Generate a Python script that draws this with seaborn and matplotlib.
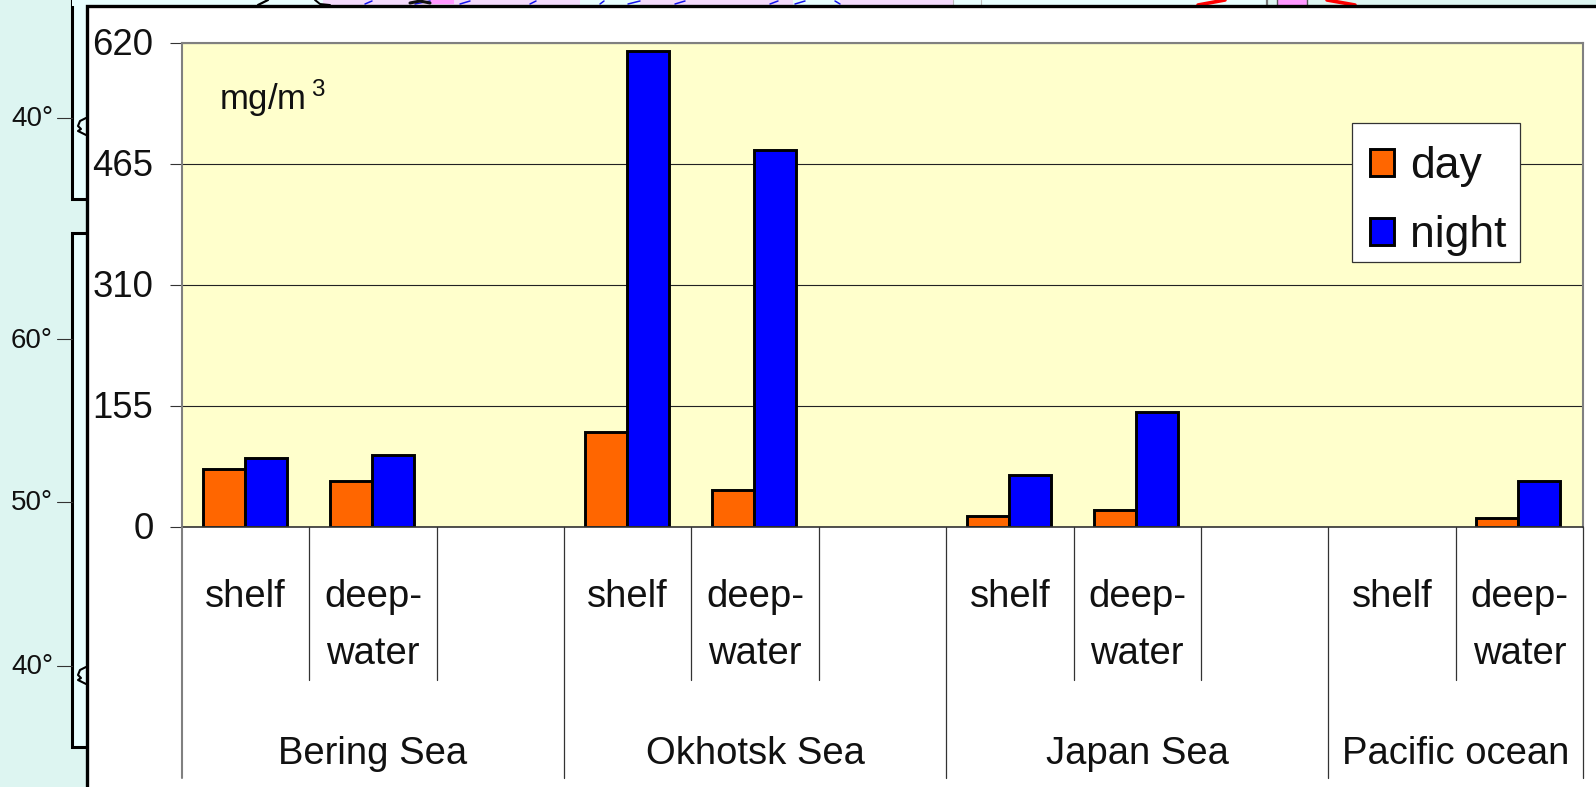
import numpy as np
import pandas as pd
import seaborn as sns
import matplotlib
matplotlib.use("Agg")
import matplotlib.pyplot as plt
from matplotlib.patches import Rectangle
from matplotlib.transforms import ScaledTranslation

# Chart values (mg/m3); NaN marks a region/zone pair without a sample
slots = ["a", "b", "c", "d", "e", "f", "g", "h", "i", "j", "k"]
day_values = [74, 59, np.nan, 122, 47, np.nan, 14, 22, np.nan, np.nan, 11]
night_values = [88, 92, np.nan, 610, 483, np.nan, 66, 147, np.nan, np.nan, 59]
y_ticks = [0, 155, 310, 465, 620]
zone_slots = [0, 1, 3, 4, 6, 7, 9, 10]
zone_labels = ["shelf", "deep-\nwater"] * 4
seas = ["Bering Sea", "Okhotsk Sea", "Japan Sea", "Pacific ocean"]
sea_spans = [(0, 3), (3, 6), (6, 9), (9, 11)]
latitude_labels = ["40°", "60°", "50°", "40°"]
latitude_rows = [118, 339, 502, 666]

W, H = 1596, 787
FONT = "Liberation Sans"
sns.set_theme(style="white")
plt.rcParams["font.family"] = [FONT, "DejaVu Sans"]
plt.rcParams["mathtext.fontset"] = "custom"
plt.rcParams["mathtext.rm"] = FONT
plt.rcParams["mathtext.default"] = "regular"

fig = plt.figure(figsize=(W / 100, H / 100), dpi=100, facecolor="#DDF5F1")

# Backdrop layer in pixel units: the map sheet that sits behind the chart panel
bg = fig.add_axes([0, 0, 1, 1], zorder=0)
bg.set_xlim(0, W)
bg.set_ylim(H, 0)
bg.axis("off")
for top, bottom in [(-5, 199), (233, 747)]:
    bg.add_patch(Rectangle((72, top), 40, bottom - top, fc="#E8FFFF", ec="black", lw=2.2))
bg.add_patch(Rectangle((72, -2), 881, 8, fc="#E8FFFF", ec="none"))
bg.add_patch(Rectangle((323, -2), 630, 8, fc="#F3DAFB", ec="none"))
for x0, x1 in [(580, 640), (793, 840)]:
    bg.add_patch(Rectangle((x0, -2), x1 - x0, 8, fc="#E8FFFF", ec="none"))
bg.add_patch(Rectangle((953, -2), 314, 8, fc="#E8FFFF", ec="none"))
bg.add_patch(Rectangle((1277, -2), 30, 8, fc="#FF99FF", ec="#555555", lw=1))
bg.plot([1267, 1267], [0, 6], color="#777777", lw=1.6)
bg.plot([953, 953], [0, 6], color="#BBBBBB", lw=0.8)
bg.plot([981, 981], [0, 6], color="#BBBBBB", lw=0.8)
bg.plot([1198, 1225], [5, 0], color="red", lw=2.6)
bg.plot([1327, 1355], [0, 5], color="red", lw=2.6)
bg.plot([258, 268], [5, 0], color="black", lw=1.6)
bg.plot([315, 320, 330], [0, 4, 5], color="black", lw=1.4)
for x0, x1 in [(365, 372), (415, 430), (460, 470), (530, 536), (600, 604), (628, 640), (675, 685), (770, 778), (795, 805), (840, 835)]:
    bg.plot([x0, x1], [4, 1], color="#1515EE", lw=1.1)
bg.plot([410, 420, 430], [3, 1, 3], color="#111111", lw=2.2)
bg.add_patch(Rectangle((430, -2), 24, 6, fc="#FF99FF", ec="none"))
for row in (118, 667):
    bg.plot([86, 80, 78, 81, 78, 86], [row, row + 3, row + 8, row + 11, row + 13, row + 17], color="black", lw=1.5)
for label, row in zip(latitude_labels, latitude_rows):
    bg.plot([57, 72], [row, row], color="#333333", lw=0.8)
    bg.text(53, row + 1.5, label, ha="right", va="center", fontsize=20, color="#111111")
bg.add_patch(Rectangle((86.5, 5.5), W, H, fc="white", ec="black", lw=2.4, zorder=5))

# Chart axes
ax = fig.add_axes([182 / W, (H - 527) / H, 1401 / W, 484 / H], zorder=1)
ax.patch.set_facecolor("#FFFFCC")

table = pd.DataFrame({
    "slot": slots * 2,
    "value": day_values + night_values,
    "period": ["day"] * len(slots) + ["night"] * len(slots),
})
sns.barplot(
    data=table, x="slot", y="value", hue="period", order=slots,
    hue_order=["day", "night"], palette={"day": "#FF6600", "night": "#0000FF"},
    width=0.66, gap=0, saturation=1, edgecolor="black", linewidth=2.1, ax=ax,
)
# Bars sit slightly left of their slot centres
for bar in ax.patches:
    bar.set_x(bar.get_x() - 0.008)
ax.set_xlim(-0.5, len(slots) - 0.5)
ax.set_ylim(0, 620)
ax.set_xlabel("")
ax.set_ylabel("")
ax.set_yticks(y_ticks)
ax.set_axisbelow(True)
ax.yaxis.grid(True, color="#222222", lw=0.8)
ax.xaxis.grid(False)
ax.tick_params(axis="x", bottom=False, labelbottom=False)
ax.tick_params(axis="y", left=True, length=8.6, width=0.8, color="#333333", pad=12,
               labelsize=26.3, labelcolor="#111111")
lift = ScaledTranslation(0, 1.0 / 72, fig.dpi_scale_trans)
for tick_label in ax.get_yticklabels():
    tick_label.set_transform(tick_label.get_transform() + lift)
for name, spine in ax.spines.items():
    spine.set_visible(True)
    spine.set_color("#808080")
    spine.set_linewidth(1.5)
ax.spines["bottom"].set_color("#333333")
ax.spines["bottom"].set_linewidth(1.2)

# Helpers: a vertical position given as pixels below the plot's baseline
to_axes = lambda px: -px / 484
xtrans = ax.get_xaxis_transform()

# Two-level category axis under the plot
for edge in range(len(slots) + 1):
    is_sea_edge = any(edge in span for span in sea_spans)
    depth = 251 if is_sea_edge else 153
    shade = "#808080" if edge == 0 else "#333333"
    ax.plot([edge - 0.5, edge - 0.5], [0, to_axes(depth)], transform=xtrans,
            color=shade, lw=0.9 if edge else 1.5, clip_on=False, zorder=3)

for pos, label in zip(zone_slots, zone_labels):
    for k, part in enumerate(label.split("\n")):
        ax.text(pos, to_axes(80 + 57.5 * k), part, transform=xtrans, ha="center",
                va="baseline", fontsize=27.5, color="#111111", clip_on=False)
for name, (first, last) in zip(seas, sea_spans):
    ax.text((first + last - 1) / 2, to_axes(236.5), name, transform=xtrans, ha="center",
            va="baseline", fontsize=27.5, color="#111111", clip_on=False)

# Unit note inside the plot
ax.text((219 - 182) / 1401, (527 - 110) / 484, "mg/m$\\,^{3}$", transform=ax.transAxes,
        ha="left", va="baseline", fontsize=25, color="#111111")

# Legend: a boxed panel with the entries set inside it
to_ax_x = lambda px: (px - 182) / 1401
to_ax_y = lambda px: (527 - px) / 484
ax.add_patch(Rectangle(
    (to_ax_x(1352), to_ax_y(262)), 168 / 1401, 139 / 484, transform=ax.transAxes,
    fc="white", ec="#333333", lw=0.9, zorder=6, clip_on=False,
))
legend = ax.legend(
    loc="upper left", bbox_to_anchor=(to_ax_x(1369.5), to_ax_y(146)),
    frameon=False, fontsize=32, title=None, handlelength=0.56, handleheight=0.56,
    handletextpad=0.36, labelspacing=0.64, borderpad=0, borderaxespad=0,
)
legend.set_zorder(7)
for text in legend.get_texts():
    text.set_color("#111111")

fig.savefig("out.png", dpi=100, facecolor=fig.get_facecolor())
